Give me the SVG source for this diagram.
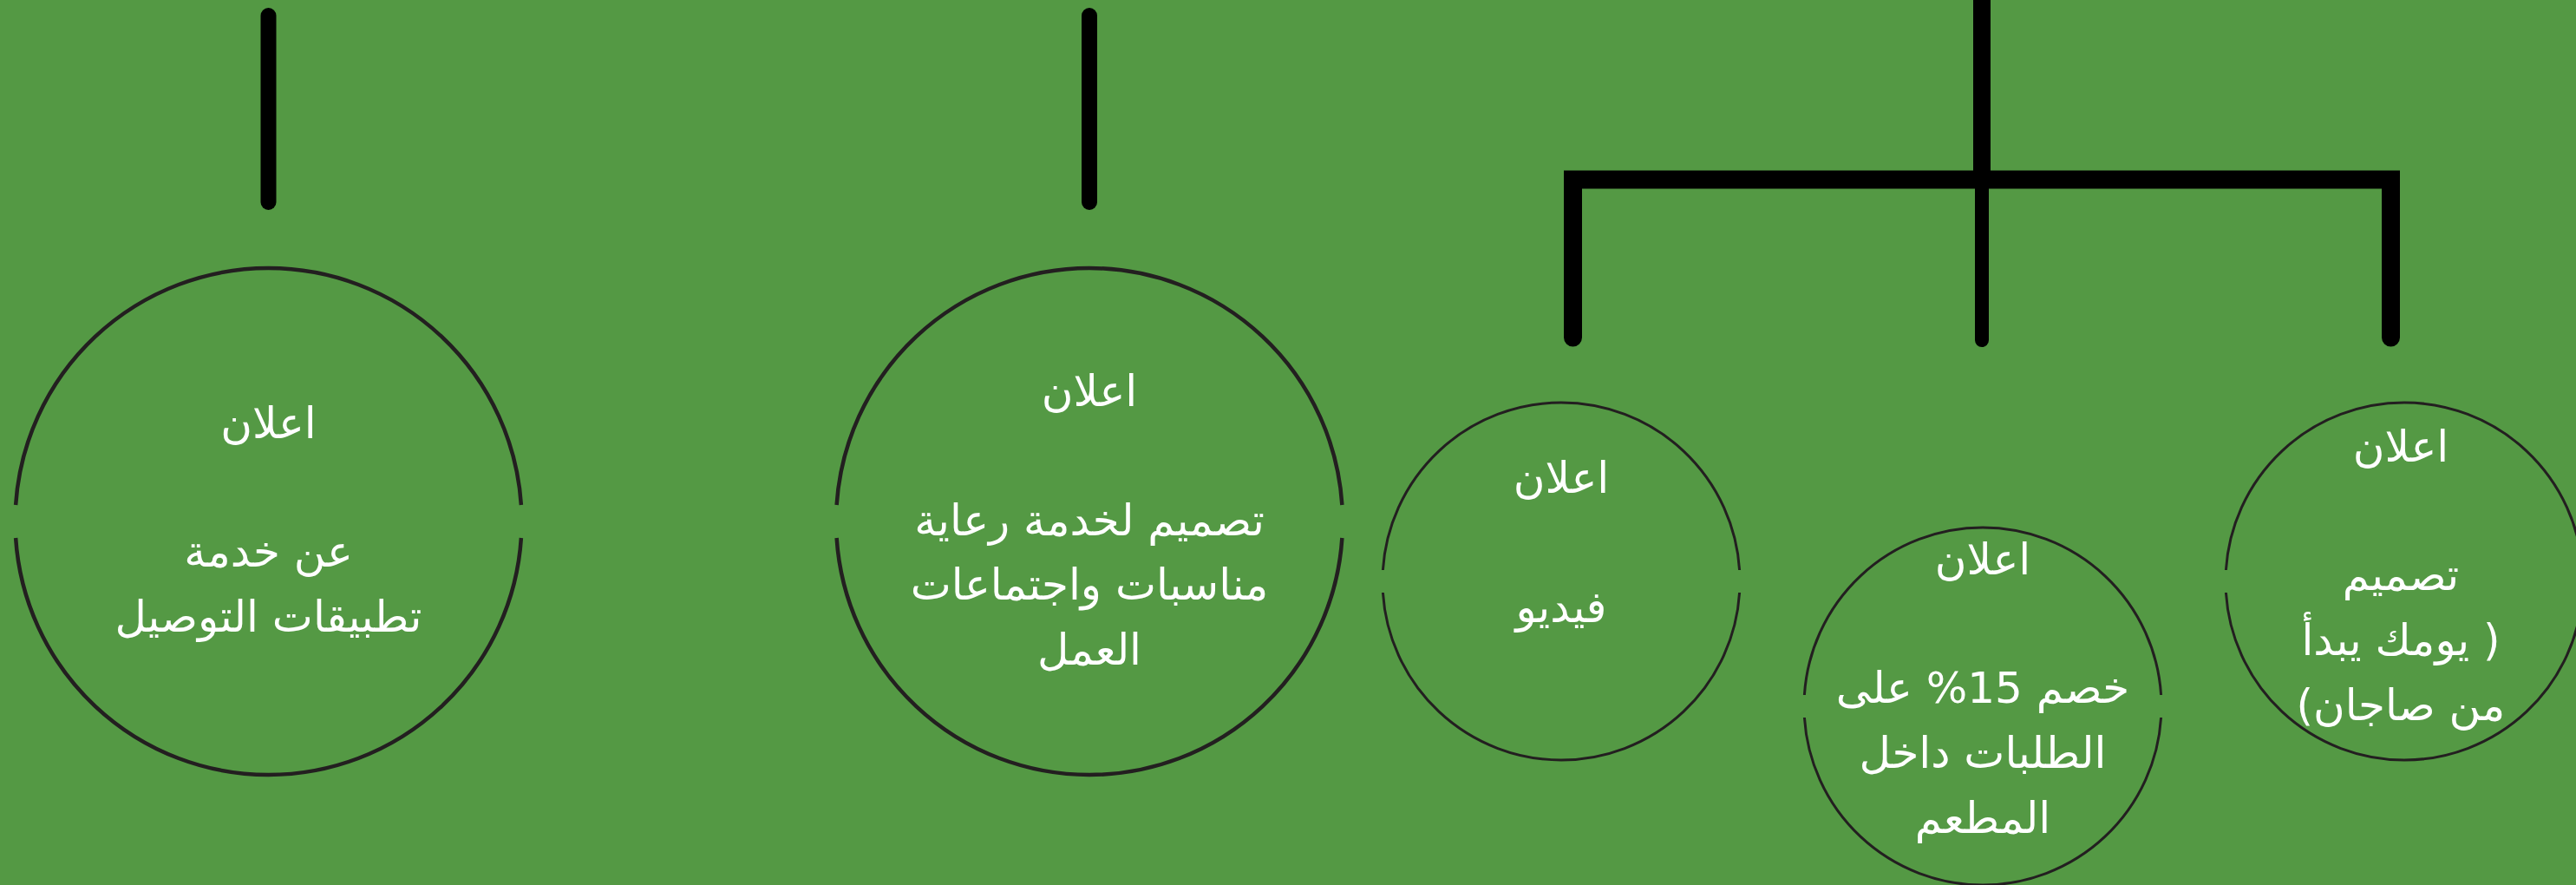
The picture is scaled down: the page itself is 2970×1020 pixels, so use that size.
<svg xmlns="http://www.w3.org/2000/svg" width="2970" height="1020" viewBox="0 0 2970 1020">
  <style>
    .bg { fill: #549944; }
    .ring-l { fill: none; stroke: #231f20; stroke-width: 4.5; }
    .ring-s { fill: none; stroke: #231f20; stroke-width: 3; }
    .wire { fill: none; stroke: #000000; stroke-linecap: round; }
    .lbl { font-family: "DejaVu Sans", "Noto Sans", sans-serif; font-size: 50px; fill: #ffffff; text-anchor: middle; direction: rtl; unicode-bidi: embed; }
  </style>
  <rect class="bg" x="0" y="0" width="2970" height="1020"/>

  <g id="connectors">
    <path class="wire" d="M309.5,18 V233" stroke-width="18"/>
    <path class="wire" d="M1256,18 V233" stroke-width="18"/>
    <path class="wire" d="M2285,-20 V207" stroke-width="20"/>
    <path class="wire" d="M1813.5,389 V207 H2756.5 V389" stroke-width="21" stroke-linejoin="miter"/>
    <path class="wire" d="M2285,207 V392" stroke-width="16"/>
  </g>

  <g id="node-delivery">
    <path class="ring-l" d="M18.12,582 A292,292 0 0 1 600.88,582"/>
    <path class="ring-l" d="M18.12,620 A292,292 0 0 0 600.88,620"/>
    <text class="lbl" x="309.5" y="505">اعلان</text>
    <text class="lbl" x="309.5" y="653">عن خدمة</text>
    <text class="lbl" x="309.5" y="728">تطبيقات التوصيل</text>
  </g>

  <g id="node-sponsorship">
    <path class="ring-l" d="M964.62,582 A292,292 0 0 1 1547.38,582"/>
    <path class="ring-l" d="M964.62,620 A292,292 0 0 0 1547.38,620"/>
    <text class="lbl" x="1256" y="468">اعلان</text>
    <text class="lbl" x="1256" y="617">تصميم لخدمة رعاية</text>
    <text class="lbl" x="1256" y="691">مناسبات واجتماعات</text>
    <text class="lbl" x="1256" y="766">العمل</text>
  </g>

  <g id="node-video">
    <path class="ring-s" d="M1594.41,657 A206,206 0 0 1 2005.59,657"/>
    <path class="ring-s" d="M1594.41,683 A206,206 0 0 0 2005.59,683"/>
    <text class="lbl" x="1800" y="568">اعلان</text>
    <text class="lbl" x="1800" y="717">فيديو</text>
  </g>

  <g id="node-discount">
    <path class="ring-s" d="M2080.41,801 A206,206 0 0 1 2491.59,801"/>
    <path class="ring-s" d="M2080.41,827 A206,206 0 0 0 2491.59,827"/>
    <text class="lbl" x="2286" y="662">اعلان</text>
    <text class="lbl" x="2286" y="810">خصم 15% على</text>
    <text class="lbl" x="2286" y="885">الطلبات داخل</text>
    <text class="lbl" x="2286" y="960">المطعم</text>
  </g>

  <g id="node-sajan">
    <path class="ring-s" d="M2566.41,657 A206,206 0 0 1 2977.59,657"/>
    <path class="ring-s" d="M2566.41,683 A206,206 0 0 0 2977.59,683"/>
    <text class="lbl" x="2768" y="532">اعلان</text>
    <text class="lbl" x="2768" y="680">تصميم</text>
    <text class="lbl" x="2768" y="755">( يومك يبدأ</text>
    <text class="lbl" x="2768" y="830">من صاجان)</text>
  </g>
</svg>
